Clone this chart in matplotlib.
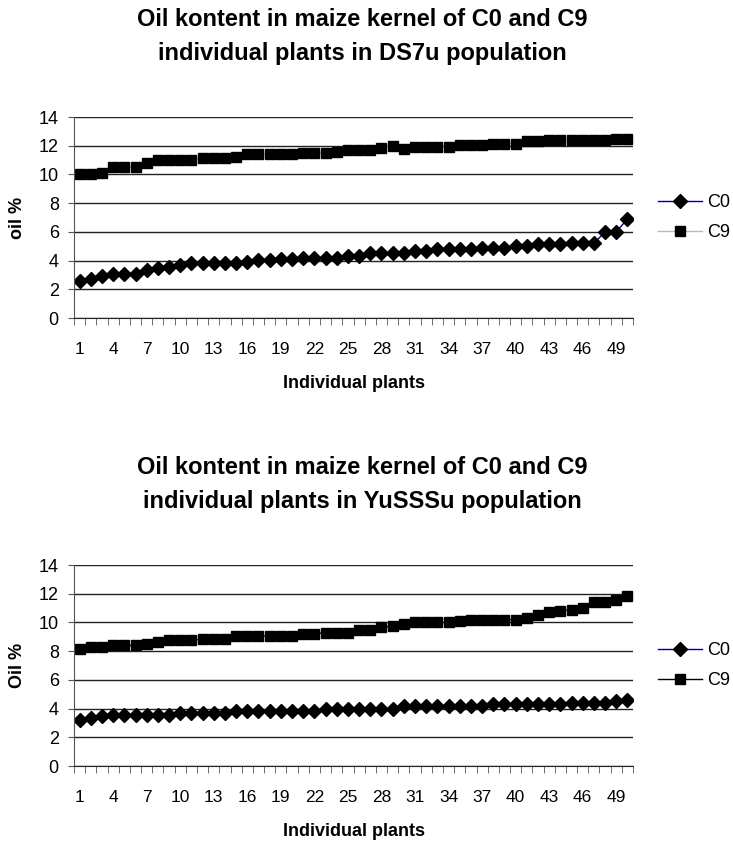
import matplotlib.pyplot as plt
from matplotlib.ticker import FixedLocator, NullFormatter

plt.rcParams['font.family'] = ['Liberation Sans', 'DejaVu Sans']

plants = list(range(1, 51))

# DS7u population
ds7u_c0 = [2.6, 2.75, 2.9, 3.05, 3.1, 3.1, 3.35, 3.45, 3.55, 3.7,
           3.8, 3.8, 3.8, 3.8, 3.8, 3.9, 4.05, 4.05, 4.1, 4.1,
           4.2, 4.2, 4.2, 4.2, 4.35, 4.35, 4.55, 4.55, 4.55, 4.55,
           4.7, 4.7, 4.8, 4.8, 4.8, 4.8, 4.9, 4.9, 4.9, 5.0,
           5.0, 5.15, 5.15, 5.15, 5.2, 5.2, 5.2, 6.0, 6.0, 6.9]
ds7u_c9 = [10.0, 10.0, 10.1, 10.5, 10.5, 10.5, 10.8, 11.0, 11.0, 11.0,
           11.0, 11.15, 11.15, 11.15, 11.25, 11.4, 11.4, 11.4, 11.4, 11.4,
           11.5, 11.5, 11.5, 11.6, 11.7, 11.7, 11.7, 11.85, 11.95, 11.8,
           11.9, 11.9, 11.9, 11.9, 12.05, 12.05, 12.05, 12.15, 12.15, 12.15,
           12.3, 12.3, 12.4, 12.4, 12.4, 12.4, 12.4, 12.4, 12.5, 12.5]

# YuSSSu population
yusssu_c0 = [3.2, 3.35, 3.45, 3.55, 3.55, 3.55, 3.55, 3.55, 3.55, 3.7,
             3.7, 3.7, 3.7, 3.7, 3.8, 3.8, 3.8, 3.8, 3.8, 3.8,
             3.8, 3.8, 4.0, 4.0, 4.0, 4.0, 4.0, 4.0, 4.0, 4.15,
             4.2, 4.2, 4.2, 4.2, 4.2, 4.2, 4.2, 4.3, 4.3, 4.3,
             4.3, 4.3, 4.3, 4.3, 4.4, 4.4, 4.4, 4.4, 4.5, 4.6]
yusssu_c9 = [8.15, 8.3, 8.3, 8.4, 8.4, 8.4, 8.5, 8.65, 8.75, 8.75,
             8.75, 8.85, 8.85, 8.85, 9.05, 9.05, 9.05, 9.05, 9.05, 9.05,
             9.2, 9.2, 9.3, 9.3, 9.3, 9.5, 9.5, 9.65, 9.75, 9.9,
             10.0, 10.0, 10.0, 10.0, 10.1, 10.2, 10.2, 10.2, 10.2, 10.2,
             10.3, 10.55, 10.7, 10.8, 10.9, 11.0, 11.45, 11.45, 11.55, 11.85]

charts = [
    (["Oil kontent in maize kernel of C0 and C9",
      "individual plants in DS7u population"],
     "oil %", ds7u_c0, ds7u_c9, "#b8b8b8", 0.6232, (0.9692, 0.9289)),
    (["Oil kontent in maize kernel of C0 and C9",
      "individual plants in YuSSSu population"],
     "Oil %", yusssu_c0, yusssu_c9, "black", 0.0924, (0.4384, 0.3981)),
]

fig = plt.figure(figsize=(7.33, 8.44), dpi=100)

for title, ylab, c0, c9, c9_line, bottom, title_y in charts:
    ax = fig.add_axes([0.101, bottom, 0.7626, 0.2381])
    ax.plot(plants, c0, color='#000080', lw=1, marker='D', ms=7,
            mfc='black', mec='black', label='C0')
    ax.plot(plants, c9, color=c9_line, lw=1, marker='s', ms=6.5,
            mfc='black', mec='black', label='C9')

    ax.set_xlim(0.5, 50.5)
    ax.set_ylim(0, 14)
    ax.set_yticks(range(0, 15, 2))
    ax.yaxis.grid(True, color='#222222', lw=1)
    ax.set_axisbelow(True)
    ax.xaxis.set_major_locator(FixedLocator(plants[::3]))
    ax.xaxis.set_minor_locator(FixedLocator([i + 0.5 for i in range(0, 51)]))
    ax.xaxis.set_minor_formatter(NullFormatter())
    ax.tick_params(axis='x', which='major', length=0, labelsize=12.5, pad=17)
    ax.tick_params(axis='x', which='minor', length=5, direction='out', color='#555555')
    ax.tick_params(axis='y', length=4, direction='out', labelsize=13, pad=7,
                   color='#555555')
    for s in ['top', 'right']:
        ax.spines[s].set_visible(False)
    ax.spines['left'].set_color('#555555')
    ax.spines['bottom'].set_color('#222222')

    ax.set_ylabel(ylab, fontsize=13, fontweight='bold', labelpad=9)
    ax.set_xlabel('Individual plants', fontsize=13, fontweight='bold', labelpad=13)
    for line, ty in zip(title, title_y):
        fig.text(0.494, ty, line, ha='center', va='baseline', fontsize=17,
                 fontweight='bold')

    ax.legend(loc='center left', bbox_to_anchor=(1.0447, 0.5), frameon=False,
              borderpad=0, borderaxespad=0, handlelength=2.45, fontsize=13,
              labelspacing=0.72, handletextpad=0.28)

fig.savefig('out.png', dpi=100)
